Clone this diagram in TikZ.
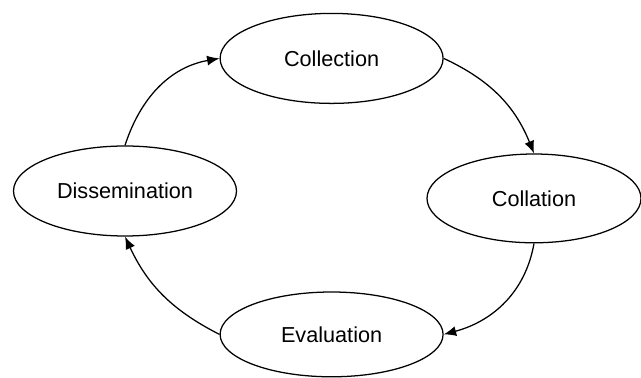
\documentclass[tikz,border=0pt]{standalone}
\usepackage{fontspec}
\setmainfont{Liberation Sans}
\usepackage{tikz}
\usetikzlibrary{arrows,arrows.meta}
\usetikzlibrary{shapes.geometric,positioning}

\tikzset{stage/.style={ellipse,draw,line width=0.9pt,inner sep=0pt,
  minimum width=5.575cm,minimum height=2.25cm,
  font=\fontsize{15.4}{18}\selectfont}}

\begin{document}
\begin{tikzpicture} [->,>={Latex[length=3.1mm,width=2.5mm]},line width=0.9pt]

  \useasboundingbox (0,0) rectangle (16.025,-9.45);

  \node[stage] (1) at (8.29,-1.46) {Collection};
  \node[stage,minimum width=5.35cm,minimum height=2.22cm] (2) at (13.35,-4.96) {Collation};
  \node[stage,minimum height=2.12cm] (3) at (8.29,-8.36) {Evaluation};
  \node[stage] (4) at (3.125,-4.775) {Dissemination};

  \path
    (1.east) edge [out=-25,in=112] (2.north)
    (2.south) edge [out=-100,in=15] (3.east)
    (3.west) edge [out=153,in=-65] (4.south)
    (4.north) edge [out=72,in=190] (1.west);

\end{tikzpicture}
\end{document}
